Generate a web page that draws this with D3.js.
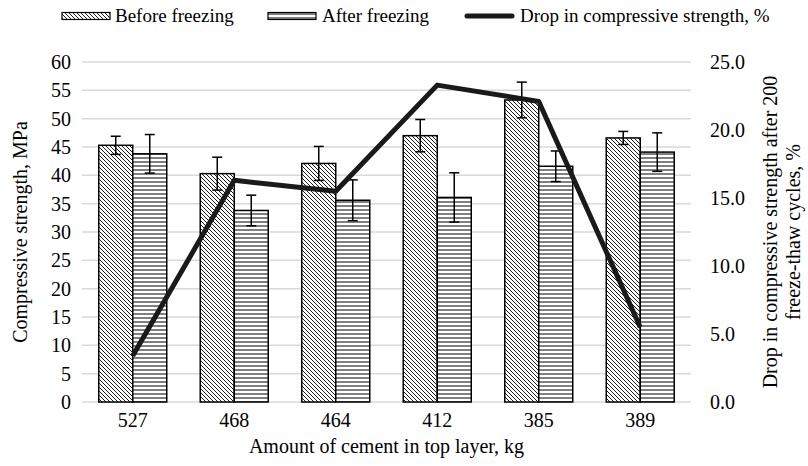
<!DOCTYPE html>
<html>
<head>
<meta charset="utf-8">
<script src="https://cdn.jsdelivr.net/npm/d3@7"></script>
<style>
  body { margin: 0; background: #fff; }
  svg text { font-family: "Liberation Serif", "DejaVu Serif", serif; fill: #000; }
</style>
</head>
<body>
<svg id="chart" width="808" height="466"></svg>
<script>
const CEMENT = ["527", "468", "464", "412", "385", "389"];
const BEFORE = [45.3, 40.3, 42.1, 47.0, 53.3, 46.6];
const BEFORE_ERR = [1.6, 2.9, 3.0, 2.85, 3.15, 1.15];
const AFTER = [43.8, 33.8, 35.6, 36.1, 41.6, 44.1];
const AFTER_ERR = [3.4, 2.7, 3.6, 4.35, 2.7, 3.4];
const DROP = [3.4, 16.3, 15.5, 23.3, 22.1, 5.5];
const LEFT_TICKS = [0, 5, 10, 15, 20, 25, 30, 35, 40, 45, 50, 55, 60];
const RIGHT_TICKS = [0, 5, 10, 15, 20, 25];

const FONT = "'Liberation Serif', 'DejaVu Serif', serif";
const svg = d3.select("#chart");
const plot = {left: 82, right: 691, top: 62, bottom: 402};

const defs = svg.append("defs");
defs.append("pattern")
    .attr("id", "diag")
    .attr("patternUnits", "userSpaceOnUse")
    .attr("width", 4).attr("height", 4)
  .call(p => {
    p.append("rect").attr("width", 4).attr("height", 4).attr("fill", "#fff");
    p.append("path").attr("d", "M0,0L4,4M-1,3L1,5M3,-1L5,1")
      .attr("stroke", "#000").attr("stroke-width", 0.9);
  });
defs.append("pattern")
    .attr("id", "horiz")
    .attr("patternUnits", "userSpaceOnUse")
    .attr("width", 4).attr("height", 4)
  .call(p => {
    p.append("rect").attr("width", 4).attr("height", 4).attr("fill", "#fff");
    p.append("path").attr("d", "M0,2L4,2")
      .attr("stroke", "#000").attr("stroke-width", 1);
  });

let x = d3.scaleBand().domain(CEMENT).range([plot.left, plot.right]);
let y = d3.scaleLinear().domain([0, 60]).range([plot.bottom, plot.top]);
let y2 = d3.scaleLinear().domain([0, 25]).range([plot.bottom, plot.top]);
let barW = x.bandwidth() * 0.335;

// gridlines
svg.append("g")
  .selectAll("line")
  .data(LEFT_TICKS)
  .enter().append("line")
    .attr("x1", plot.left).attr("x2", plot.right)
    .attr("y1", d => y(d)).attr("y2", d => y(d))
    .attr("stroke", "#d9d9d9")
    .attr("stroke-width", 1.5);

// left axis
let axisL = svg.append("g")
  .attr("transform", `translate(${plot.left - 2},0)`)
  .call(d3.axisLeft(y).tickValues(LEFT_TICKS).tickSize(0).tickPadding(9));
axisL.attr("font-family", FONT).attr("font-size", 20);
axisL.select(".domain").remove();

// right axis
let axisR = svg.append("g")
  .attr("transform", `translate(${plot.right + 10},0)`)
  .call(d3.axisRight(y2).tickValues(RIGHT_TICKS).tickSize(0).tickPadding(9).tickFormat(d3.format(".1f")));
axisR.attr("font-family", FONT).attr("font-size", 20);
axisR.select(".domain").remove();

// bottom axis
let axisB = svg.append("g")
  .attr("transform", `translate(0,${plot.bottom})`)
  .call(d3.axisBottom(x).tickSize(0).tickPadding(11));
axisB.attr("font-family", FONT).attr("font-size", 20);
axisB.select(".domain").remove();

// bars
const series = [
  {vals: BEFORE, errs: BEFORE_ERR, fill: "url(#diag)", off: -1},
  {vals: AFTER, errs: AFTER_ERR, fill: "url(#horiz)", off: 0}
];
series.forEach(s => {
  let g = svg.append("g");
  g.selectAll("rect")
    .data(CEMENT)
    .enter().append("rect")
      .attr("x", d => x(d) + x.bandwidth() / 2 + s.off * barW)
      .attr("y", (d, i) => y(s.vals[i]))
      .attr("width", barW)
      .attr("height", (d, i) => y(0) - y(s.vals[i]))
      .attr("fill", s.fill)
      .attr("stroke", "#000")
      .attr("stroke-width", 1.5);
});

// error bars
series.forEach(s => {
  let g = svg.append("g").attr("stroke", "#000").attr("stroke-width", 1.5);
  CEMENT.forEach((c, i) => {
    let cx = x(c) + x.bandwidth() / 2 + s.off * barW + barW / 2;
    let hi = y(s.vals[i] + s.errs[i]), lo = y(s.vals[i] - s.errs[i]);
    g.append("line").attr("x1", cx).attr("x2", cx).attr("y1", hi).attr("y2", lo);
    g.append("line").attr("x1", cx - 5).attr("x2", cx + 5).attr("y1", hi).attr("y2", hi);
    g.append("line").attr("x1", cx - 5).attr("x2", cx + 5).attr("y1", lo).attr("y2", lo);
  });
});

// drop line
let line = d3.line()
  .x((d, i) => x(CEMENT[i]) + x.bandwidth() / 2)
  .y(d => y2(d));
svg.append("path")
  .datum(DROP)
  .attr("d", line)
  .attr("fill", "none")
  .attr("stroke", "#1a1a1a")
  .attr("stroke-width", 5)
  .attr("stroke-linejoin", "round");

// axis titles
svg.append("text")
  .attr("transform", `translate(${(plot.left + plot.right) / 2},453)`)
  .attr("text-anchor", "middle")
  .attr("font-size", "20px")
  .text("Amount of cement in top layer, kg");
svg.append("text")
  .attr("transform", `translate(27,${(plot.top + plot.bottom) / 2}) rotate(-90)`)
  .attr("text-anchor", "middle")
  .attr("font-size", "20px")
  .text("Compressive strength, MPa");
svg.append("text")
  .attr("transform", `translate(777,${(plot.top + plot.bottom) / 2}) rotate(-90)`)
  .attr("text-anchor", "middle")
  .attr("font-size", "20px")
  .text("Drop in compressive strength after 200");
svg.append("text")
  .attr("transform", `translate(800,${(plot.top + plot.bottom) / 2}) rotate(-90)`)
  .attr("text-anchor", "middle")
  .attr("font-size", "20px")
  .text("freeze-thaw cycles, %");

// legend
let legend = svg.append("g");
legend.append("rect").attr("x", 62).attr("y", 12.5).attr("width", 48).attr("height", 7)
  .attr("fill", "url(#diag)").attr("stroke", "#000").attr("stroke-width", 1.2);
legend.append("text").attr("x", 115).attr("y", 22).attr("font-size", "19px").text("Before freezing");
legend.append("rect").attr("x", 268).attr("y", 12.5).attr("width", 48).attr("height", 7)
  .attr("fill", "url(#horiz)").attr("stroke", "#000").attr("stroke-width", 1.2);
legend.append("text").attr("x", 322).attr("y", 22).attr("font-size", "19px").text("After freezing");
legend.append("line").attr("x1", 467).attr("x2", 512).attr("y1", 16).attr("y2", 16)
  .attr("stroke", "#1a1a1a").attr("stroke-width", 5).attr("stroke-linecap", "round");
legend.append("text").attr("x", 520).attr("y", 22).attr("font-size", "19px").text("Drop in compressive strength, %");
</script>
</body>
</html>
